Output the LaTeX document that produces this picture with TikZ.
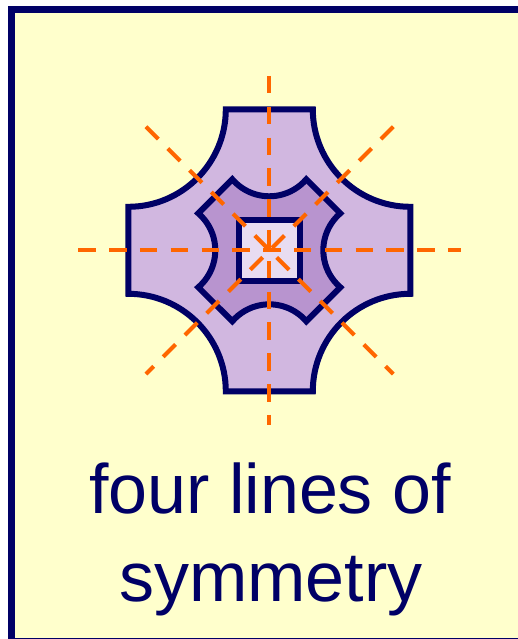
\documentclass[tikz,border=0pt]{standalone}
\usepackage{fontspec}
\setmainfont{Liberation Sans}
\usetikzlibrary{positioning}
\definecolor{cardyellow}{RGB}{255,255,204}
\definecolor{navy}{RGB}{0,0,102}
\definecolor{symorange}{RGB}{255,102,0}
\definecolor{lilacouter}{RGB}{209,183,224}
\definecolor{lilacmid}{RGB}{184,148,207}
\definecolor{lilacinner}{RGB}{232,220,241}

\begin{document}
\begin{tikzpicture}[
  x=1pt,y=1pt,
  outline/.style={draw=navy,line width=6pt,line join=miter},
  symline/.style={draw=symorange,line width=4pt,dash pattern=on 17.5pt off 13.3pt},
  caption/.style={text=navy,font=\fontsize{70}{88}\selectfont,inner sep=0pt,anchor=base}
]
\useasboundingbox (0,0) rectangle (518,-639);
\clip (0,0) rectangle (518,-639);
% card
\draw[navy,fill=cardyellow,line width=7pt] (11.5,-9.5) rectangle (530,-641);

\begin{scope}[shift={(269.3,-250.3)}]
% outer shape
\draw[outline,fill=lilacouter] (-43.5,141) -- (43.5,141)
  arc[start angle=180,end angle=270,radius=97.5pt] -- (141,-43.5)
  arc[start angle=90,end angle=180,radius=97.5pt] -- (-43.5,-141)
  arc[start angle=0,end angle=90,radius=97.5pt] -- (-141,43.5)
  arc[start angle=270,end angle=360,radius=97.5pt] -- cycle;
% middle shape
\draw[outline,fill=lilacmid] (-37,71)
  arc[start angle=220.7,end angle=319.3,radius=48.8pt] -- (71,37)
  arc[start angle=130.7,end angle=229.3,radius=48.8pt] -- (37,-71)
  arc[start angle=40.7,end angle=139.3,radius=48.8pt] -- (-71,-37)
  arc[start angle=-49.3,end angle=49.3,radius=48.8pt] -- cycle;
% inner square
\draw[outline,fill=lilacinner] (-30.5,-30.5) rectangle (30.5,30.5);
% lines of symmetry
\draw[symline] (0,174.3) -- (0,-174.7);
\draw[symline] (-191,0) -- (191.7,0);
\draw[symline] (-123.3,123.6) -- (124,-123.7);
\draw[symline] (124,123.6) -- (-123.3,-123.7);
\end{scope}

\node[caption] (topline) at (270,-513.3) {four lines of};
\node[caption] (bottomline) at (270.8,-601.7) {symmetry};
\end{tikzpicture}
\end{document}
